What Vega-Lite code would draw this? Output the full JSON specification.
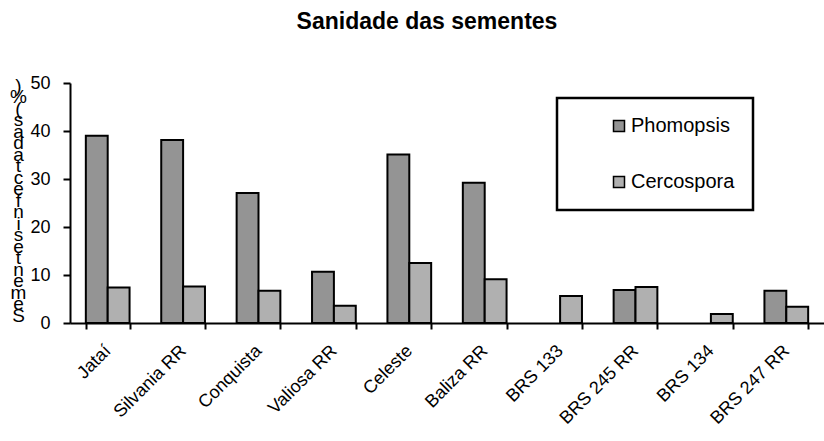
{
  "$schema": "https://vega.github.io/schema/vega-lite/v6.json",
  "width": 754,
  "height": 240,
  "autosize": {"type": "none"},
  "padding": {"left": 70, "top": 83, "right": 0, "bottom": 118},
  "background": "white",
  "title": {
    "text": "Sanidade das sementes",
    "font": "Liberation Sans",
    "fontSize": 23,
    "fontWeight": "bold",
    "color": "black",
    "anchor": "middle",
    "frame": "group",
    "dx": -20,
    "offset": 40
  },
  "data": {
    "values": [
      {"cultivar": "Jataí", "doenca": "Phomopsis", "valor": 39.0},
      {"cultivar": "Jataí", "doenca": "Cercospora", "valor": 7.4},
      {"cultivar": "Silvania RR", "doenca": "Phomopsis", "valor": 38.1},
      {"cultivar": "Silvania RR", "doenca": "Cercospora", "valor": 7.6},
      {"cultivar": "Conquista", "doenca": "Phomopsis", "valor": 27.1},
      {"cultivar": "Conquista", "doenca": "Cercospora", "valor": 6.7},
      {"cultivar": "Valiosa RR", "doenca": "Phomopsis", "valor": 10.7},
      {"cultivar": "Valiosa RR", "doenca": "Cercospora", "valor": 3.6},
      {"cultivar": "Celeste", "doenca": "Phomopsis", "valor": 35.1},
      {"cultivar": "Celeste", "doenca": "Cercospora", "valor": 12.5},
      {"cultivar": "Baliza RR", "doenca": "Phomopsis", "valor": 29.2},
      {"cultivar": "Baliza RR", "doenca": "Cercospora", "valor": 9.1},
      {"cultivar": "BRS 133", "doenca": "Cercospora", "valor": 5.6},
      {"cultivar": "BRS 245 RR", "doenca": "Phomopsis", "valor": 6.9},
      {"cultivar": "BRS 245 RR", "doenca": "Cercospora", "valor": 7.5},
      {"cultivar": "BRS 134", "doenca": "Cercospora", "valor": 1.9},
      {"cultivar": "BRS 247 RR", "doenca": "Phomopsis", "valor": 6.7},
      {"cultivar": "BRS 247 RR", "doenca": "Cercospora", "valor": 3.4}
    ]
  },
  "mark": {"type": "bar", "stroke": "black", "strokeWidth": 2},
  "encoding": {
    "x": {
      "field": "cultivar",
      "type": "nominal",
      "sort": ["Jataí", "Silvania RR", "Conquista", "Valiosa RR", "Celeste", "Baliza RR", "BRS 133", "BRS 245 RR", "BRS 134", "BRS 247 RR"],
      "scale": {"paddingInner": 0.42, "paddingOuter": 0.21},
      "axis": {
        "title": null,
        "labelAngle": -45,
        "labelAlign": "right",
        "labelBaseline": "middle",
        "labelFont": "Liberation Sans",
        "labelFontSize": 18,
        "labelColor": "black",
        "labelPadding": 19,
        "tickBand": "extent",
        "tickSize": 6,
        "tickWidth": 2,
        "tickColor": "black",
        "domainColor": "black",
        "domainWidth": 2
      }
    },
    "xOffset": {
      "field": "doenca",
      "type": "nominal",
      "scale": {"domain": ["Phomopsis", "Cercospora"]}
    },
    "y": {
      "field": "valor",
      "type": "quantitative",
      "scale": {"domain": [0, 50]},
      "axis": {
        "values": [0, 10, 20, 30, 40, 50],
        "grid": false,
        "domainColor": "black",
        "domainWidth": 2,
        "tickColor": "black",
        "tickWidth": 2,
        "tickSize": 7,
        "labelPadding": 13,
        "labelFont": "Liberation Sans",
        "labelFontSize": 18,
        "labelColor": "black",
        "title": [")", "%", "(", " ", "s", "a", "d", "a", "t", "c", "e", "f", "n", "i", " ", "s", "e", "t", "n", "e", "m", "e", "S"],
        "titleAngle": 0,
        "titleFont": "Liberation Sans",
        "titleFontSize": 19,
        "titleFontWeight": "normal",
        "titleColor": "black",
        "titleLineHeight": 11.5,
        "titleAlign": "center",
        "titleBaseline": "middle",
        "titleX": -52,
        "titleY": 2
      }
    },
    "color": {
      "field": "doenca",
      "type": "nominal",
      "scale": {"domain": ["Phomopsis", "Cercospora"], "range": ["#949494", "#b0b0b0"]},
      "legend": {
        "orient": "none",
        "legendX": 487,
        "legendY": 15,
        "title": null,
        "strokeColor": "black",
        "padding": 18,
        "rowPadding": 36,
        "symbolType": "square",
        "symbolSize": 121,
        "symbolStrokeColor": "black",
        "symbolStrokeWidth": 1.5,
        "symbolOpacity": 1,
        "symbolOffset": 34,
        "labelFont": "Liberation Sans",
        "labelFontSize": 20,
        "labelColor": "black",
        "labelOffset": 2,
        "labelLimit": 400,
        "labelExpr": "datum.label + '        '",
        "encode": {"legend": {"update": {"strokeWidth": {"value": 2.5}}}}
      }
    }
  },
  "config": {"view": {"stroke": null}}
}
